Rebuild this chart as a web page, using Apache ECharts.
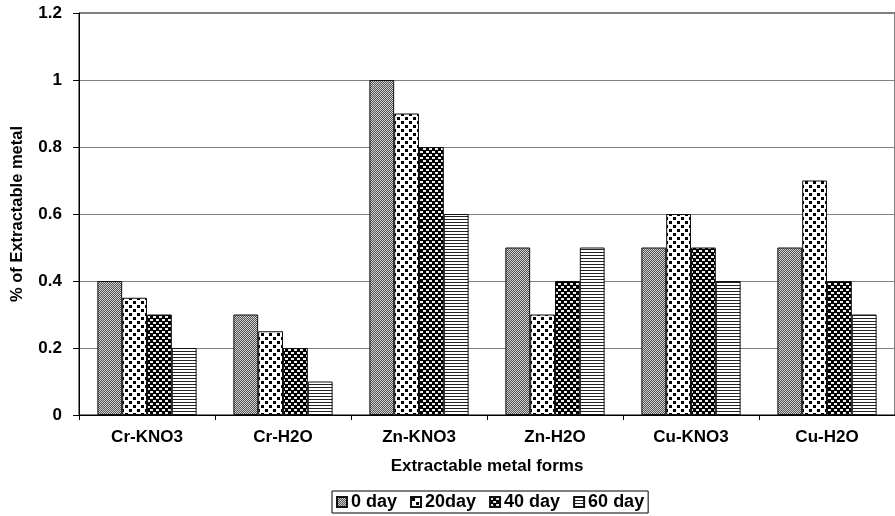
<!DOCTYPE html>
<html>
<head>
<meta charset="utf-8">
<script src="https://cdn.jsdelivr.net/npm/echarts@6/dist/echarts.min.js"></script>
<style>
  html, body { margin: 0; padding: 0; background: #fff; }
  #chart { width: 895px; height: 516px; }
</style>
</head>
<body>
<div id="chart"></div>
<script>
// Categories and values (% of extractable metal per incubation time)
const categories = ['Cr-KNO3', 'Cr-H2O', 'Zn-KNO3', 'Zn-H2O', 'Cu-KNO3', 'Cu-H2O'];
const seriesNames = ['0 day', '20day', '40 day', '60 day'];
const day0  = [0.4, 0.3, 1.0, 0.5, 0.5, 0.5];
const day20 = [0.35, 0.25, 0.9, 0.3, 0.6, 0.7];
const day40 = [0.3, 0.2, 0.8, 0.4, 0.5, 0.4];
const day60 = [0.2, 0.1, 0.6, 0.5, 0.4, 0.3];
const yTicks = [0, 0.2, 0.4, 0.6, 0.8, 1, 1.2];

// Monochrome fill patterns, one per series
function tile(w, h, draw) {
  const c = document.createElement('canvas');
  c.width = w; c.height = h;
  const g = c.getContext('2d');
  draw(g);
  return { image: c, repeat: 'repeat' };
}
const fills = [
  // fine gray checker
  tile(2, 2, g => {
    g.fillStyle = '#555'; g.fillRect(0, 0, 2, 2);
    g.fillStyle = '#cfcfcf'; g.fillRect(0, 0, 1, 1); g.fillRect(1, 1, 1, 1);
  }),
  // white with scattered black squares
  tile(8, 8, g => {
    g.fillStyle = '#fff'; g.fillRect(0, 0, 8, 8);
    g.fillStyle = '#000';
    g.fillRect(1, 1, 3, 3);
    g.fillRect(5, 5, 3, 3);
  }),
  // black with white dashes in a brick layout
  tile(6, 6, g => {
    g.fillStyle = '#000'; g.fillRect(0, 0, 6, 6);
    g.fillStyle = '#eee';
    g.fillRect(0, 1, 3, 2);
    g.fillRect(3, 4, 3, 2);
  }),
  // horizontal stripes
  tile(4, 3, g => {
    g.fillStyle = '#fff'; g.fillRect(0, 0, 4, 3);
    g.fillStyle = '#222'; g.fillRect(0, 0, 4, 1);
  })
];

const seriesData = [day0, day20, day40, day60];
const font = '"Liberation Sans", Arial, sans-serif';

const chart = echarts.init(document.getElementById('chart'), null, { renderer: 'canvas' });
chart.setOption({
  animation: false,
  backgroundColor: '#fff',
  grid: {
    left: 79, top: 13, width: 826, height: 402,
    show: true, borderColor: '#000', borderWidth: 1, backgroundColor: 'transparent'
  },
  legend: {
    data: seriesNames,
    top: 491,
    left: 332,
    itemWidth: 10, itemHeight: 10, itemGap: 13,
    padding: [2, 4, 2, 4],
    borderColor: '#000', borderWidth: 1,
    textStyle: { fontFamily: font, fontWeight: 'bold', fontSize: 18, color: '#000', padding: [0, 0, 0, -1] },
    icon: 'rect'
  },
  xAxis: {
    type: 'category',
    data: categories,
    name: 'Extractable metal forms',
    nameLocation: 'middle',
    nameGap: 43,
    nameTextStyle: { fontFamily: font, fontWeight: 'bold', fontSize: 17, color: '#000' },
    axisLine: { lineStyle: { color: '#000', width: 1 } },
    axisTick: { show: true, length: 5, lineStyle: { color: '#000' } },
    axisLabel: { fontFamily: font, fontWeight: 'bold', fontSize: 17, color: '#000', margin: 14 },
    splitLine: { show: false }
  },
  yAxis: {
    type: 'value',
    min: yTicks[0],
    max: yTicks[yTicks.length - 1],
    interval: 0.2,
    name: '% of Extractable metal',
    nameLocation: 'middle',
    nameGap: 53,
    nameRotate: 90,
    nameTextStyle: { fontFamily: font, fontWeight: 'bold', fontSize: 16.5, color: '#000' },
    axisLine: { show: true, lineStyle: { color: '#000', width: 1 } },
    axisTick: { show: true, inside: false, length: 6, lineStyle: { color: '#000' } },
    axisLabel: {
      fontFamily: font, fontWeight: 'bold', fontSize: 17, color: '#000', margin: 17,
      formatter: v => String(Math.round(v * 10) / 10)
    },
    splitLine: { show: true, lineStyle: { color: '#808080', width: 1 } }
  },
  series: seriesNames.map((name, i) => ({
    name: name,
    type: 'bar',
    data: seriesData[i],
    barGap: '0%',
    barCategoryGap: '27%',
    itemStyle: { color: fills[i], borderColor: '#111', borderWidth: 1 }
  }))
});
</script>
</body>
</html>
